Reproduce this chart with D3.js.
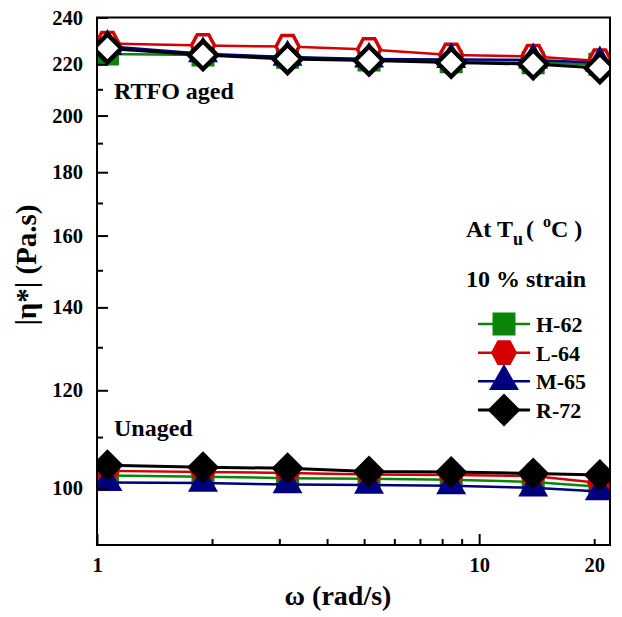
<!DOCTYPE html>
<html><head><meta charset="utf-8">
<script src="https://cdn.jsdelivr.net/npm/d3@7"></script>
<style>
html,body{margin:0;padding:0;background:#fff;}
svg{display:block;font-family:"Liberation Serif","Times New Roman",serif;font-weight:bold;}
</style></head><body>
<svg id="chart" width="622" height="617"></svg>
<script>
// Angular frequency (rad/s) of the sweep
const omega = [1.065, 1.894, 3.152, 5.15, 8.45, 13.85, 20.7];
const seriesNames = ["H-62", "L-64", "M-65", "R-72"];
// |η*| (Pa.s), RTFO aged binders
const agedH62 = [224.3, 223.8, 222.9, 221.8, 221.0, 220.6, 220.0];
const agedL64 = [228.7, 227.8, 227.4, 226.1, 223.8, 223.2, 221.4];
const agedM65 = [227.5, 224.4, 223.0, 222.2, 222.0, 221.8, 220.6];
const agedR72 = [226.6, 223.8, 222.2, 221.6, 220.7, 220.1, 218.5];
// |η*| (Pa.s), unaged binders
const unagedH62 = [102.4, 102.2, 101.9, 101.8, 101.6, 101.2, 100.3];
const unagedL64 = [103.3, 103.1, 102.9, 102.6, 102.5, 102.3, 101.0];
const unagedM65 = [101.1, 101.0, 100.7, 100.6, 100.5, 100.1, 99.4];
const unagedR72 = [104.4, 104.0, 103.8, 103.2, 103.1, 102.8, 102.5];
// Axis ticks
const yMajorTicks = [100, 120, 140, 160, 180, 200, 220, 240];
const yMinorTicks = [110, 130, 150, 170, 190, 210, 230];
const xMajorTicks = [1, 10];
const xMinorTicks = [2, 3, 4, 5, 6, 7, 8, 9, 20];
const xTickLabels = [1, 10, 20];

const svg = d3.select("#chart");
const pLeft = 97, pRight = 610, pTop = 17.5, pBottom = 545;

const x = d3.scaleLog().domain([1, 22]).range([pLeft, pRight]);
const y = d3.scaleLog().domain([90, 240]).range([pBottom, pTop]);

// symbol shapes; the "size" argument is used as a half-extent in px
const squareSym = { draw(c, r) { c.rect(-r, -r, 2 * r, 2 * r); } };
const hexSym = { draw(c, r) {
  const h = r * 0.95;
  c.moveTo(r, 0); c.lineTo(r / 2, -h); c.lineTo(-r / 2, -h);
  c.lineTo(-r, 0); c.lineTo(-r / 2, h); c.lineTo(r / 2, h); c.closePath();
} };
const triSym = { draw(c, r) {
  const s = r * Math.sqrt(3);
  c.moveTo(0, -r); c.lineTo(s / 2, r / 2); c.lineTo(-s / 2, r / 2); c.closePath();
} };
const diaSym = { draw(c, r) {
  c.moveTo(0, -r); c.lineTo(r, 0); c.lineTo(0, r); c.lineTo(-r, 0); c.closePath();
} };

const colors = { "H-62": "#0a850a", "L-64": "#d40000", "M-65": "#00007e", "R-72": "#000000" };
const lineW = { "H-62": 2.5, "L-64": 2.5, "M-65": 2.5, "R-72": 3 };
const sym = { "H-62": squareSym, "L-64": hexSym, "M-65": triSym, "R-72": diaSym };

// clip region = plot area
svg.append("defs").append("clipPath").attr("id", "plotClip")
  .append("rect").attr("x", pLeft).attr("y", pTop)
  .attr("width", pRight - pLeft).attr("height", pBottom - pTop);

const plot = svg.append("g").attr("clip-path", "url(#plotClip)");
const line = d3.line().x(d => x(d[0])).y(d => y(d[1]));

const agedSets = { "H-62": agedH62, "L-64": agedL64, "M-65": agedM65, "R-72": agedR72 };
const unagedSets = { "H-62": unagedH62, "L-64": unagedL64, "M-65": unagedM65, "R-72": unagedR72 };

// marker style for each series: [size, fill, stroke, strokeWidth]
const agedStyle = {
  "H-62": [11.5, colors["H-62"], "none", 0],
  "L-64": [11.5, "#fff", colors["L-64"], 3.5],
  "M-65": [17.3, colors["M-65"], "none", 0],
  "R-72": [14, "#fff", "#000", 4.5]
};
const unagedStyle = {
  "H-62": [11.5, colors["H-62"], "none", 0],
  "L-64": [13, colors["L-64"], "none", 0],
  "M-65": [17.3, colors["M-65"], "none", 0],
  "R-72": [16, "#000", "none", 0]
};

function drawSeries(name, vals, style) {
  const pts = omega.map((w, i) => [w, vals[i]]);
  plot.append("path").datum(pts).attr("d", line)
    .attr("fill", "none").attr("stroke", colors[name]).attr("stroke-width", lineW[name])
    .attr("stroke-linejoin", "round");
  const [sz, fill, stroke, sw] = style[name];
  plot.append("g").selectAll("path").data(pts).join("path")
    .attr("transform", d => `translate(${x(d[0])},${y(d[1])})`)
    .attr("d", d3.symbol().type(sym[name]).size(sz))
    .attr("fill", fill).attr("stroke", stroke).attr("stroke-width", sw)
    .attr("stroke-linejoin", "miter");
}

seriesNames.forEach(n => {
  drawSeries(n, unagedSets[n], unagedStyle);
  drawSeries(n, agedSets[n], agedStyle);
});

// axes with inward ticks
const tickFont = g => g.selectAll("text").attr("font-size", 20.5).attr("font-weight", "bold")
  .attr("font-family", "Liberation Serif, Times New Roman, serif").attr("fill", "#000");
const tickStroke = g => g.selectAll("line").attr("stroke", "#000").attr("stroke-width", 2);

svg.append("g").attr("transform", `translate(${pLeft},0)`)
  .call(d3.axisLeft(y).tickValues(yMajorTicks).tickFormat(d3.format("d"))
    .tickSizeInner(-11).tickSizeOuter(0).tickPadding(14))
  .call(g => g.select(".domain").remove()).call(tickFont).call(tickStroke);
svg.append("g").attr("transform", `translate(${pLeft},0)`)
  .call(d3.axisLeft(y).tickValues(yMinorTicks).tickFormat("").tickSizeInner(-6).tickSizeOuter(0))
  .call(g => g.select(".domain").remove()).call(tickStroke);

svg.append("g").attr("transform", `translate(0,${pBottom})`)
  .call(d3.axisBottom(x).tickValues(xMajorTicks).tickFormat("").tickSizeInner(-11).tickSizeOuter(0))
  .call(g => g.select(".domain").remove()).call(tickStroke);
svg.append("g").attr("transform", `translate(0,${pBottom})`)
  .call(d3.axisBottom(x).tickValues(xMinorTicks).tickFormat("").tickSizeInner(-6).tickSizeOuter(0))
  .call(g => g.select(".domain").remove()).call(tickStroke);
svg.append("g").attr("transform", `translate(0,${pBottom})`)
  .call(d3.axisBottom(x).tickValues(xTickLabels).tickFormat(d3.format("d")).tickSize(0).tickPadding(12))
  .call(g => g.select(".domain").remove()).call(tickFont);

// frame
svg.append("rect").attr("x", pLeft).attr("y", pTop)
  .attr("width", pRight - pLeft).attr("height", pBottom - pTop)
  .attr("fill", "none").attr("stroke", "#000").attr("stroke-width", 2);

// axis titles
svg.append("text").attr("x", 338).attr("y", 605).attr("text-anchor", "middle")
  .attr("font-size", 28).text("ω (rad/s)");
svg.append("text").attr("transform", "translate(36,265) rotate(-90)").attr("text-anchor", "middle")
  .attr("font-size", 29).text("|η*| (Pa.s)");

// annotations
svg.append("text").attr("x", 114).attr("y", 99).attr("font-size", 24).text("RTFO aged");
svg.append("text").attr("x", 114).attr("y", 436).attr("font-size", 24).text("Unaged");
const cond = svg.append("text").attr("x", 466).attr("y", 237).attr("font-size", 24);
cond.append("tspan").text("At T");
cond.append("tspan").attr("font-size", 18).attr("dy", 8).text("u");
cond.append("tspan").attr("dy", -8).attr("dx", 3).text("(");
cond.append("tspan").attr("font-size", 16).attr("dy", -10).attr("dx", 9).text("o");
cond.append("tspan").attr("dy", 10).text("C )");
svg.append("text").attr("x", 466).attr("y", 287).attr("font-size", 24).text("10 % strain");

// legend
const legendStyle = {
  "H-62": [11.5, colors["H-62"]],
  "L-64": [13, colors["L-64"]],
  "M-65": [17.3, colors["M-65"]],
  "R-72": [16.5, "#000"]
};
const legY = d3.scalePoint().domain(seriesNames).range([324, 410]);
const leg = svg.append("g").selectAll("g").data(seriesNames).join("g")
  .attr("transform", d => `translate(0,${legY(d)})`);
leg.append("line").attr("x1", 478).attr("x2", 530)
  .attr("stroke", d => colors[d]).attr("stroke-width", d => lineW[d]);
leg.append("path").attr("transform", "translate(504,0)")
  .attr("d", d => d3.symbol().type(sym[d]).size(legendStyle[d][0])())
  .attr("fill", d => legendStyle[d][1]);
leg.append("text").attr("x", 536).attr("y", 8).attr("font-size", 22).text(d => d);
</script>
</body></html>
